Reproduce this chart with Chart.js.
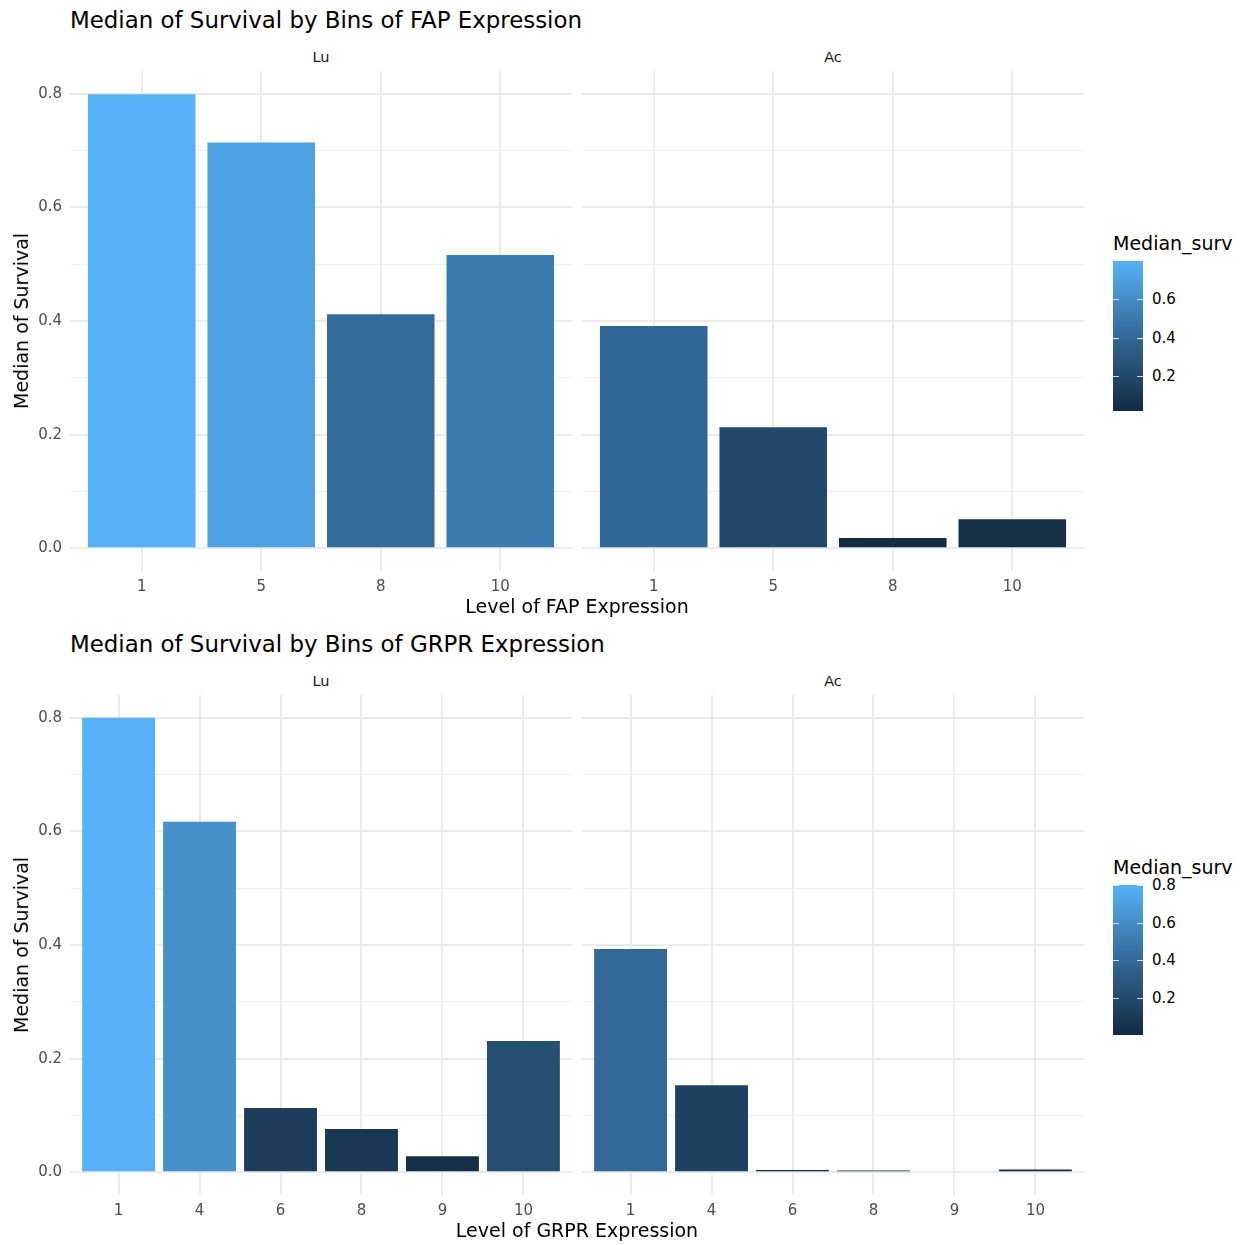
<!DOCTYPE html>
<html>
<head>
<meta charset="utf-8">
<script src="https://cdn.jsdelivr.net/npm/chart.js@4.4.1/dist/chart.umd.min.js"></script>
<style>
  body { margin: 0; background: #fff; font-family: "DejaVu Sans", sans-serif; }
  #wrap { position: relative; width: 1245px; height: 1245px; overflow: hidden; }
  canvas.facet { position: absolute; }
  .txt { position: absolute; white-space: nowrap; }
</style>
</head>
<body>
<div id="wrap"></div>
<script>
// FAP plot data
const fapLevels = ['1', '5', '8', '10'];
const fapLu = [0.799, 0.714, 0.412, 0.516];
const fapAc = [0.391, 0.213, 0.018, 0.051];

// GRPR plot data
const grprLevels = ['1', '4', '6', '8', '9', '10'];
const grprLu = [0.800, 0.617, 0.113, 0.076, 0.028, 0.231];
const grprAc = [0.393, 0.153, 0.004, 0.003, 0.0, 0.005];

const yTicks = [0, 0.1, 0.2, 0.3, 0.4, 0.5, 0.6, 0.7, 0.8];
const legendBreaks = [0.2, 0.4, 0.6, 0.8];

const wrap = document.getElementById('wrap');

// ggplot-like gradient (#132B43 -> #56B1F7) interpolated in Lab
const WHITE = [0.95047, 1, 1.08883];
function toLin(c) { c /= 255; return c <= 0.04045 ? c / 12.92 : Math.pow((c + 0.055) / 1.055, 2.4); }
function fromLin(c) {
  c = c <= 0.0031308 ? 12.92 * c : 1.055 * Math.pow(c, 1 / 2.4) - 0.055;
  return Math.round(Math.min(1, Math.max(0, c)) * 255);
}
function hexToLab(hex) {
  const r = toLin(parseInt(hex.slice(1, 3), 16));
  const g = toLin(parseInt(hex.slice(3, 5), 16));
  const b = toLin(parseInt(hex.slice(5, 7), 16));
  const xyz = [
    (0.4124 * r + 0.3576 * g + 0.1805 * b) / WHITE[0],
    (0.2126 * r + 0.7152 * g + 0.0722 * b) / WHITE[1],
    (0.0193 * r + 0.1192 * g + 0.9505 * b) / WHITE[2]
  ];
  const f = xyz.map(t => t > 0.008856 ? Math.cbrt(t) : 7.787 * t + 16 / 116);
  return [116 * f[1] - 16, 500 * (f[0] - f[1]), 200 * (f[1] - f[2])];
}
function labToRgb(lab) {
  const fy = (lab[0] + 16) / 116;
  const fx = lab[1] / 500 + fy;
  const fz = fy - lab[2] / 200;
  const inv = t => (t * t * t > 0.008856 ? t * t * t : (t - 16 / 116) / 7.787);
  const X = inv(fx) * WHITE[0], Y = inv(fy) * WHITE[1], Z = inv(fz) * WHITE[2];
  const r = 3.2406 * X - 1.5372 * Y - 0.4986 * Z;
  const g = -0.9689 * X + 1.8758 * Y + 0.0415 * Z;
  const b = 0.0557 * X - 0.2040 * Y + 1.0570 * Z;
  return 'rgb(' + fromLin(r) + ',' + fromLin(g) + ',' + fromLin(b) + ')';
}
const LOW = hexToLab('#132B43');
const HIGH = hexToLab('#56B1F7');
function colorFor(v, min, max) {
  const t = max > min ? (v - min) / (max - min) : 0;
  return labToRgb(LOW.map((c, i) => c + (HIGH[i] - c) * t));
}

function addText(str, x, y, size, color, align, rotate) {
  const d = document.createElement('div');
  d.className = 'txt';
  d.textContent = str;
  d.style.left = x + 'px';
  d.style.top = y + 'px';
  d.style.fontSize = size + 'px';
  d.style.color = color;
  let tx = align === 'center' ? '-50%' : '0';
  d.style.transform = 'translate(' + tx + ', -50%)' + (rotate ? ' rotate(-90deg)' : '');
  wrap.appendChild(d);
}

const isMajor = v => Math.round(v * 10) % 2 === 0;

// one facet = one Chart.js bar chart on a linear x axis (ggplot style 0.6 expansion)
function makeFacet(left, panelTop, width, levels, values, min, max, showY) {
  const canvas = document.createElement('canvas');
  canvas.className = 'facet';
  canvas.width = width;
  canvas.height = 550;
  canvas.style.left = left + 'px';
  canvas.style.top = (panelTop - 20) + 'px';
  wrap.appendChild(canvas);

  new Chart(canvas.getContext('2d'), {
    type: 'bar',
    data: {
      datasets: [{
        data: values.map((v, i) => ({ x: i + 1, y: v })),
        backgroundColor: values.map(v => colorFor(v, min, max)),
        borderWidth: 0,
        barPercentage: 0.9,
        categoryPercentage: 1.0
      }]
    },
    options: {
      responsive: false,
      animation: false,
      layout: { padding: { top: 20, left: 0, right: 0, bottom: 0 } },
      plugins: { legend: { display: false }, tooltip: { enabled: false } },
      scales: {
        x: {
          type: 'linear',
          offset: false,
          min: 0.4,
          max: levels.length + 0.6,
          afterBuildTicks: s => { s.ticks = levels.map((l, i) => ({ value: i + 1 })); },
          afterFit: s => { s.height = 30; },
          border: { display: false },
          grid: { color: '#EBEBEB', lineWidth: 2, drawTicks: false, offset: false },
          ticks: {
            padding: 7,
            color: '#4D4D4D',
            font: { family: 'DejaVu Sans', size: 15 },
            maxRotation: 0,
            callback: v => levels[Math.round(v) - 1]
          }
        },
        y: {
          min: -0.04,
          max: 0.84,
          afterBuildTicks: s => { s.ticks = yTicks.map(v => ({ value: v })); },
          afterFit: s => { s.width = showY ? 70 : 0; },
          border: { display: false },
          grid: {
            color: ctx => (isMajor(ctx.tick.value) ? '#EBEBEB' : '#EFEFEF'),
            lineWidth: ctx => (isMajor(ctx.tick.value) ? 2 : 1),
            drawTicks: false
          },
          ticks: {
            display: showY,
            padding: 8,
            color: '#4D4D4D',
            font: { family: 'DejaVu Sans', size: 15 },
            callback: v => (isMajor(v) ? v.toFixed(1) : '')
          }
        }
      }
    }
  });
}

function makeLegend(x, top, min, max) {
  const h = 150, w = 30;
  const c = document.createElement('canvas');
  c.width = w; c.height = h;
  c.style.position = 'absolute';
  c.style.left = x + 'px';
  c.style.top = top + 'px';
  wrap.appendChild(c);
  const ctx = c.getContext('2d');
  for (let y = 0; y < h; y++) {
    ctx.fillStyle = colorFor(max - (y + 0.5) / h * (max - min), min, max);
    ctx.fillRect(0, y, w, 1);
  }
  ctx.strokeStyle = 'rgba(255,255,255,0.8)';
  ctx.lineWidth = 1;
  legendBreaks.forEach(b => {
    if (b < min || b > max + 1e-9) return;
    const y = Math.round(top + (max - b) / (max - min) * h);
    const ly = y - top + 0.5;
    ctx.beginPath();
    ctx.moveTo(0, ly); ctx.lineTo(6, ly);
    ctx.moveTo(w - 6, ly); ctx.lineTo(w, ly);
    ctx.stroke();
    addText(b.toFixed(1), x + w + 9, y, 15, '#000', 'left');
  });
  addText('Median_surv', x, top - 18, 19, '#000', 'left');
}

function makePlot(title, axisLabel, levels, lu, ac, top) {
  const all = lu.concat(ac);
  const min = Math.min(...all), max = Math.max(...all);
  const panelTop = top + 71;
  addText(title, 70, top + 20, 22.9, '#000', 'left');
  addText('Lu', 321, top + 57, 14.5, '#1A1A1A', 'center');
  addText('Ac', 833, top + 57, 14.5, '#1A1A1A', 'center');
  makeFacet(0, panelTop, 572, levels, lu, min, max, true);
  makeFacet(582, panelTop, 502, levels, ac, min, max, false);
  addText(axisLabel, 577, top + 606, 19, '#000', 'center');
  addText('Median of Survival', 21, panelTop + 250, 19, '#000', 'center', true);
  makeLegend(1113, top + 261, min, max);
}

makePlot('Median of Survival by Bins of FAP Expression', 'Level of FAP Expression',
  fapLevels, fapLu, fapAc, 0);
makePlot('Median of Survival by Bins of GRPR Expression', 'Level of GRPR Expression',
  grprLevels, grprLu, grprAc, 624);
</script>
</body>
</html>
